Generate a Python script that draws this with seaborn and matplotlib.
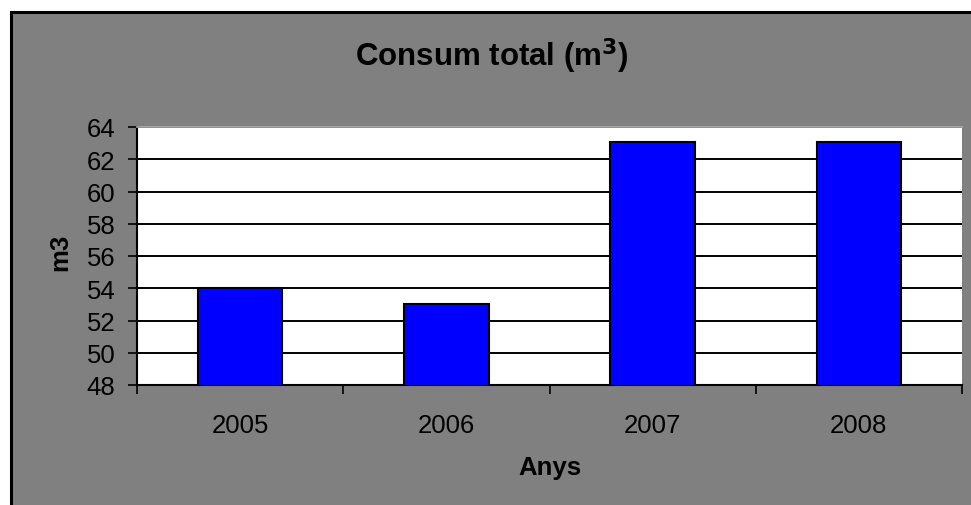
import matplotlib
matplotlib.use("Agg")
import matplotlib.pyplot as plt
import seaborn as sns
import pandas as pd
from matplotlib.patches import Rectangle

years = ["2005", "2006", "2007", "2008"]
consum = [54, 53, 63.1, 63.1]
yticks = [48, 50, 52, 54, 56, 58, 60, 62, 64]

plt.rcParams['font.family'] = ['Liberation Sans', 'DejaVu Sans']

W, H = 971, 506
fig = plt.figure(figsize=(W / 100, H / 100), dpi=100, facecolor="white")

# grey chart area with black frame
fig.patches.append(Rectangle((10.5 / W, -0.05), 1.1, 1 - 12.5 / H + 0.05,
                             transform=fig.transFigure, facecolor="#808080",
                             edgecolor="black", linewidth=2.2, zorder=-5))

ax = fig.add_axes([137 / W, 1 - 386 / H, 825 / W, 258 / H])
ax.set_zorder(2)
ax.set_facecolor("white")

df = pd.DataFrame({"Anys": years, "m3": consum})
sns.barplot(data=df, x="Anys", y="m3", color="#0000FF", saturation=1,
            edgecolor="black", linewidth=1.5, width=0.41, ax=ax, zorder=3)

ax.set_ylim(48, 64)
ax.set_xlim(-0.5, len(years) - 0.5)
ax.set_yticks(yticks)
ax.set_yticklabels([str(v) for v in yticks])
ax.yaxis.grid(True, color="black", linewidth=1.4)
ax.set_axisbelow(True)

ax.tick_params(axis="y", direction="out", length=6.5, width=1.2, pad=9,
               labelsize=18.5, colors="black")
ax.tick_params(axis="x", which="major", length=0, pad=20, labelsize=18.5)
ax.set_xticks([i - 0.5 for i in range(len(years) + 1)], minor=True)
ax.tick_params(axis="x", which="minor", direction="out", length=6.5, width=1.2)

for s in ["left", "bottom"]:
    ax.spines[s].set_color("black")
    ax.spines[s].set_linewidth(1.5)
ax.spines["right"].set_visible(False)
ax.spines["top"].set_color("#b0b0b0")
ax.spines["top"].set_linewidth(1.2)

ax.set_xlabel("Anys", fontsize=18.5, fontweight="bold")
ax.set_ylabel("m3", fontsize=18.5, fontweight="bold")
ax.xaxis.set_label_coords((550 - 137) / 825, (386 - 468) / 258)
ax.xaxis.label.set_va("center")
ax.yaxis.set_label_coords((60 - 137) / 825, (386 - 252) / 258)
ax.yaxis.label.set_va("center")

fig.text(491.5 / W, 1 - 56 / H, r"Consum total (m$^\mathbf{3}$)",
         ha="center", va="center", fontsize=22.5, fontweight="bold")

fig.savefig("out.png", dpi=100, facecolor=fig.get_facecolor())
